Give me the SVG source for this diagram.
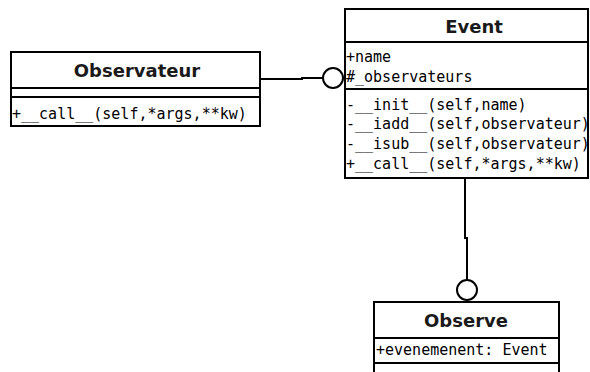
<svg xmlns="http://www.w3.org/2000/svg" width="590" height="372" viewBox="0 0 590 372">
<style>
.box{fill:#fff;stroke:#000;stroke-width:2}
.sep{stroke:#000;stroke-width:2;fill:none}
.title{font-family:"DejaVu Sans",sans-serif;font-weight:bold;font-size:18px;fill:#1a1a1a;text-anchor:middle}
.mono{font-family:"DejaVu Sans Mono",monospace;font-size:15px;fill:#000}
.conn{stroke:#000;stroke-width:2;fill:none}
.ball{fill:#fff;stroke:#000;stroke-width:2}
</style>
<rect width="590" height="372" fill="#fff"/>
<g id="connectors">
<polyline class="conn" points="260,79 302,79 302,78 323,78"/>
<circle class="ball" cx="333" cy="78" r="10"/>
<polyline class="conn" points="465,178 465,238 467,238 467,280"/>
<circle class="ball" cx="467" cy="290" r="10"/>
</g>
<g id="observateur">
<rect class="box" x="11" y="52" width="249" height="74"/>
<line class="sep" x1="11" y1="88" x2="260" y2="88"/>
<line class="sep" x1="11" y1="97" x2="260" y2="97"/>
<text class="title" x="137" y="77">Observateur</text>
<text class="mono" x="12" y="118.5">+__call__(self,*args,**kw)</text>
</g>
<g id="event">
<rect class="box" x="345" y="9" width="243" height="169"/>
<line class="sep" x1="345" y1="42" x2="588" y2="42"/>
<line class="sep" x1="345" y1="89" x2="588" y2="89"/>
<text class="title" x="474" y="33">Event</text>
<text class="mono" x="346" y="62">+name</text>
<text class="mono" x="346" y="82">#_observateurs</text>
<text class="mono" x="346" y="109.5">-__init__(self,name)</text>
<text class="mono" x="346" y="129.3">-__iadd__(self,observateur)</text>
<text class="mono" x="346" y="149.1">-__isub__(self,observateur)</text>
<text class="mono" x="346" y="169">+__call__(self,*args,**kw)</text>
</g>
<g id="observe">
<path class="box" d="M374,380 L374,302 L559,302 L559,380"/>
<line class="sep" x1="374" y1="338" x2="559" y2="338"/>
<line class="sep" x1="374" y1="363" x2="559" y2="363"/>
<text class="title" x="466" y="327">Observe</text>
<text class="mono" x="376" y="355">+evenemenent: Event</text>
</g>
</svg>
